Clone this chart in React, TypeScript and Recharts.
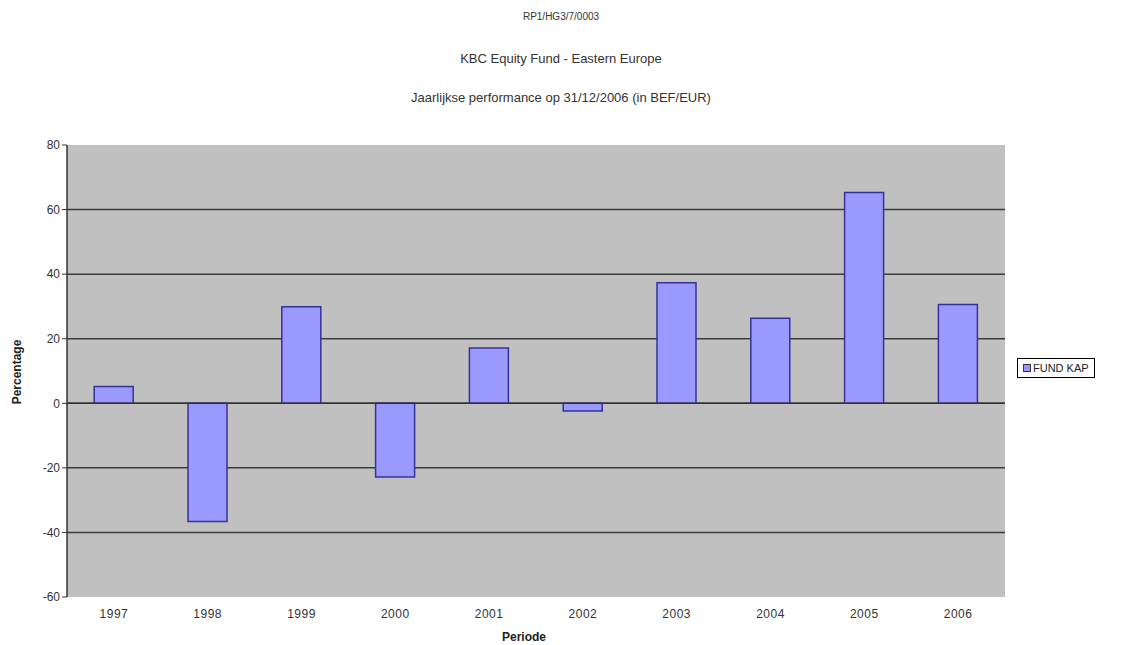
import {
  Bar,
  BarChart,
  CartesianGrid,
  Label,
  ReferenceLine,
  XAxis,
  YAxis,
} from "recharts";

type Row = {
  year: string;
  value: number;
};

// values
const years = ["1997", "1998", "1999", "2000", "2001", "2002", "2003", "2004", "2005", "2006"];
const fundKap = [5.2, -36.6, 29.9, -22.8, 17.1, -2.4, 37.3, 26.3, 65.3, 30.6];
const yTicks = [-60, -40, -20, 0, 20, 40, 60, 80];
const gridValues = [-40, -20, 0, 20, 40, 60];

const titleLines = [
  "RP1/HG3/7/0003",
  "KBC Equity Fund - Eastern Europe",
  "Jaarlijkse performance op 31/12/2006 (in BEF/EUR)",
];

const data: Row[] = years.map((y, i) => ({ year: y, value: fundKap[i] }));

const font = "'Liberation Sans', Arial, sans-serif";

// legend drawn as a plain box so it doesn't eat into the plot area
const LegendBox = () => (
  <div
    style={{
      position: "absolute",
      left: 1017,
      top: 358,
      border: "1px solid #000",
      background: "#fff",
      padding: "3px 5px",
      fontFamily: font,
      fontSize: 11,
      color: "#222",
      display: "flex",
      alignItems: "center",
      gap: 2,
      whiteSpace: "nowrap",
    }}
  >
    <span
      style={{
        display: "inline-block",
        width: 6,
        height: 6,
        background: "#9999ff",
        border: "1px solid #333",
      }}
    />
    FUND KAP
  </div>
);

const App = () => {
  return (
    <div style={{ position: "absolute", left: 0, top: 0, width: 1122, height: 645, background: "#fff" }}>
      <div
        style={{
          position: "absolute",
          left: 0,
          width: 1122,
          textAlign: "center",
          fontFamily: font,
          color: "#333",
        }}
      >
        <div style={{ position: "absolute", top: 11, width: "100%", fontSize: 10 }}>{titleLines[0]}</div>
        <div style={{ position: "absolute", top: 51, width: "100%", fontSize: 13 }}>{titleLines[1]}</div>
        <div style={{ position: "absolute", top: 90, width: "100%", fontSize: 13 }}>{titleLines[2]}</div>
      </div>
      <BarChart
        width={1122}
        height={645}
        data={data}
        margin={{ top: 145, right: 117, bottom: 8, left: 0 }}
        barCategoryGap="29%"
      >
        <CartesianGrid
          vertical={false}
          fill="#c0c0c0"
          stroke="#3a3a3a"
          strokeWidth={1.5}
          horizontalValues={gridValues}
        />
        <XAxis
          dataKey="year"
          height={40}
          axisLine={false}
          tickLine={false}
          tick={{ fontFamily: font, fontSize: 12, fill: "#333", letterSpacing: 0.5 }}
          tickMargin={6}
        >
          <Label
            content={() => (
              <text x={524} y={641} textAnchor="middle" fontFamily={font} fontSize={12} fontWeight="bold" fill="#222">
                Periode
              </text>
            )}
          />
        </XAxis>
        <YAxis
          width={67}
          domain={[-60, 80]}
          ticks={yTicks}
          interval={0}
          axisLine={{ stroke: "#333", strokeWidth: 1.5 }}
          tickLine={{ stroke: "#333" }}
          tickSize={5}
          tick={{ fontFamily: font, fontSize: 12, fill: "#333" }}
        >
          <Label
            content={() => (
              <text
                x={21}
                y={372}
                textAnchor="middle"
                transform="rotate(-90 21 372)"
                fontFamily={font}
                fontSize={12}
                fontWeight="bold"
                fill="#222"
              >
                Percentage
              </text>
            )}
          />
        </YAxis>
        <ReferenceLine y={0} stroke="#333" strokeWidth={1.5} />
        <Bar dataKey="value" fill="#9999ff" stroke="#333399" strokeWidth={1.5} isAnimationActive={false} />
      </BarChart>
      <LegendBox />
    </div>
  );
};

export default App;
